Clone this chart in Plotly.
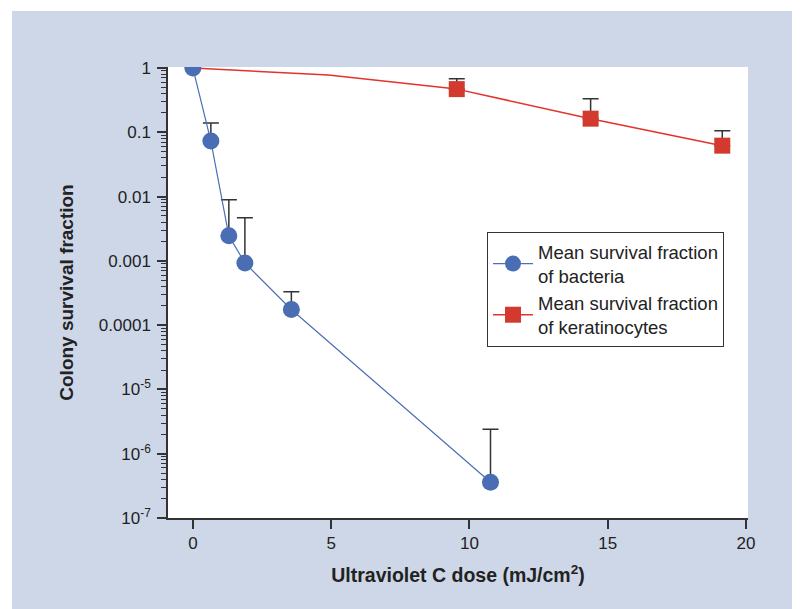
import plotly.graph_objects as go

# ---- data ----
bact_dose = [0, 0.65, 1.3, 1.88, 3.56, 10.76]
bact_mean = [1.0, 0.073, 0.00245, 0.00093, 0.000175, 3.6e-7]
bact_upper = [1.0, 0.14, 0.0089, 0.0047, 0.00033, 2.4e-6]

kera_curve_dose = [0, 4.9, 9.54]
kera_curve_val = [1.0, 0.78, 0.47]
kera_dose = [9.54, 14.38, 19.14]
kera_mean = [0.47, 0.163, 0.062]
kera_upper = [0.68, 0.333, 0.106]

y_tickvals = [1, 0.1, 0.01, 0.001, 0.0001, 1e-5, 1e-6, 1e-7]
y_ticktext = ["1", "0.1", "0.01", "0.001", "0.0001",
              "10<sup>-5</sup>", "10<sup>-6</sup>", "10<sup>-7</sup>"]
x_tickvals = [0, 5, 10, 15, 20]

BLUE = "#4a6db4"
BLUE_LINE = "#4d6fb3"
RED = "#d23a2f"
RED_LINE = "#e5322a"
DARK = "#333333"
TXT = "#222222"
FONT = "Liberation Sans, Arial, sans-serif"

minor_vals = [m * 10.0 ** e for e in range(-7, 0) for m in range(2, 10)]

fig = go.Figure()

# keratinocyte curve segment (no markers)
fig.add_trace(go.Scatter(
    x=kera_curve_dose, y=kera_curve_val, mode="lines",
    line=dict(color=RED_LINE, width=1.5), showlegend=False, hoverinfo="skip"))

# keratinocytes
fig.add_trace(go.Scatter(
    x=kera_dose, y=kera_mean, mode="lines+markers",
    name="Mean survival fraction<br>of keratinocytes",
    line=dict(color=RED_LINE, width=1.5),
    marker=dict(symbol="square", size=16, color=RED),
    error_y=dict(type="data", symmetric=False,
                 array=[u - m for u, m in zip(kera_upper, kera_mean)],
                 arrayminus=[0] * len(kera_mean),
                 color=DARK, thickness=1.5, width=8),
    legendrank=2))

# bacteria
fig.add_trace(go.Scatter(
    x=bact_dose, y=bact_mean, mode="lines+markers",
    name="Mean survival fraction<br>of bacteria",
    line=dict(color=BLUE_LINE, width=1.2),
    marker=dict(symbol="circle", size=17, color=BLUE),
    error_y=dict(type="data", symmetric=False,
                 array=[u - m for u, m in zip(bact_upper, bact_mean)],
                 arrayminus=[0] * len(bact_mean),
                 color=DARK, thickness=1.5, width=8),
    legendrank=1))

fig.update_layout(
    width=800, height=609,
    margin=dict(l=160, r=60, t=59, b=99),
    paper_bgcolor="white",
    plot_bgcolor="white",
    font=dict(family=FONT, color=TXT),
    showlegend=True,
    legend=dict(x=0.55, y=0.634, xanchor="left", yanchor="top",
                bgcolor="white", bordercolor=DARK, borderwidth=1,
                font=dict(size=18.5, family=FONT, color=TXT),
                tracegroupgap=2, itemwidth=40),
    shapes=[
        dict(type="rect", xref="paper", yref="paper",
             x0=(4 - 160) / 580, x1=(795 - 160) / 580,
             y0=1 - (603 - 59) / 451, y1=1 - (3 - 59) / 451,
             fillcolor="#ced7e8", line=dict(width=0), layer="below"),
        dict(type="rect", xref="paper", yref="paper",
             x0=0, x1=1, y0=0, y1=1,
             fillcolor="white", line=dict(width=0), layer="below"),
    ],
)

fig.update_xaxes(
    range=[-0.9, 20.07], tickvals=x_tickvals,
    ticks="outside", ticklen=9, tickwidth=1.5, tickcolor=DARK,
    showline=True, linecolor=DARK, linewidth=1.5,
    showgrid=False, zeroline=False,
    tickfont=dict(size=17, family=FONT, color=TXT),
    title=dict(text="<b>Ultraviolet C dose (mJ/cm<sup>2</sup>)</b>",
               font=dict(size=19.5, family=FONT, color=TXT), standoff=16),
)

fig.update_yaxes(
    type="log", range=[-7, 0.016],
    tickvals=y_tickvals, ticktext=y_ticktext,
    ticks="outside", ticklen=9, tickwidth=1.5, tickcolor=DARK,
    ticklabelstandoff=3,
    minor=dict(tickvals=minor_vals, ticks="outside", ticklen=5,
               tickwidth=1.2, tickcolor=DARK, showgrid=False),
    showline=True, linecolor=DARK, linewidth=1.5,
    showgrid=False, zeroline=False,
    tickfont=dict(size=17, family=FONT, color=TXT),
    title=dict(text="<b>Colony survival fraction</b>",
               font=dict(size=19, family=FONT, color=TXT), standoff=20),
)

fig.write_html("out.html")
